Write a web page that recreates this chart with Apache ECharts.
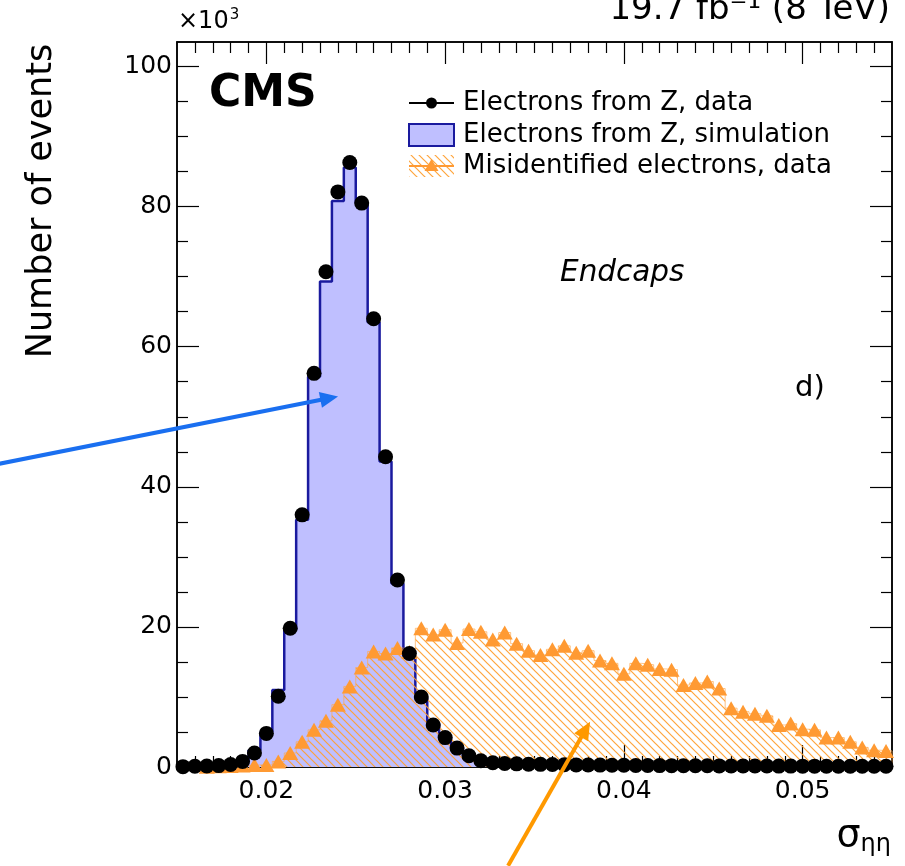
<!DOCTYPE html>
<html>
<head>
<meta charset="utf-8">
<script src="https://cdn.jsdelivr.net/npm/echarts@6/dist/echarts.min.js"></script>
<style>
  html, body { margin: 0; padding: 0; background: #ffffff; }
  #chart { width: 905px; height: 866px; }
</style>
</head>
<body>
<div id="chart"></div>
<script>
// Histogram binning of sigma_ieta_ieta (endcaps)
const binLow = 0.015;
const binHigh = 0.055;
const nBins = 60;

// Tick labels
const xTickLabels = [0.02, 0.03, 0.04, 0.05];
const yTickLabels = [0, 20, 40, 60, 80, 100];
const yMax = 103.5;

// Electrons from Z, data (x10^3 events per bin)
const zData = [
  0.05, 0.1, 0.15, 0.2, 0.35, 0.8, 2.0, 4.8, 10.1, 19.8,
  36.0, 56.2, 70.7, 82.1, 86.3, 80.5, 64.0, 44.3, 26.7, 16.2,
  10.0, 6.0, 4.2, 2.7, 1.6, 0.9, 0.6, 0.5, 0.45, 0.4,
  0.38, 0.35, 0.32, 0.3, 0.28, 0.27, 0.25, 0.24, 0.22, 0.21,
  0.2, 0.19, 0.18, 0.18, 0.17, 0.16, 0.15, 0.15, 0.14, 0.14,
  0.13, 0.13, 0.12, 0.12, 0.11, 0.11, 0.1, 0.1, 0.1, 0.1
];

// Electrons from Z, simulation
const zSim = [
  0.05, 0.1, 0.15, 0.2, 0.35, 0.8, 2.4, 5.0, 11.0, 19.6,
  35.3, 55.7, 69.3, 80.8, 85.6, 80.5, 63.5, 43.6, 26.2, 15.8,
  9.8, 6.2, 4.3, 2.8, 1.7, 1.0, 0.6, 0.5, 0.45, 0.4,
  0.38, 0.35, 0.32, 0.3, 0.28, 0.27, 0.25, 0.24, 0.22, 0.21,
  0.2, 0.19, 0.18, 0.18, 0.17, 0.16, 0.15, 0.15, 0.14, 0.14,
  0.13, 0.13, 0.12, 0.12, 0.11, 0.11, 0.1, 0.1, 0.1, 0.1
];

// Misidentified electrons, data
const fakeData = [
  0, 0, 0.05, 0.1, 0.15, 0.2, 0.3, 0.3, 0.8, 2.0,
  3.6, 5.3, 6.6, 8.9, 11.5, 14.2, 16.5, 16.2, 17.0, 16.4,
  19.8, 18.9, 19.6, 17.7, 19.7, 19.3, 18.2, 19.2, 17.6, 16.6,
  16.0, 16.8, 17.3, 16.3, 16.6, 15.2, 14.8, 13.3, 14.8, 14.6,
  14.0, 13.9, 11.7, 12.0, 12.2, 11.2, 8.4, 7.9, 7.6, 7.3,
  6.0, 6.2, 5.4, 5.3, 4.2, 4.2, 3.6, 2.8, 2.4, 2.3
];

// Annotation arrows, given in data coordinates [tail, tip]
const blueArrow = [[0.00507, 43.3], [0.02401, 52.9]];
const orangeArrow = [[0.03352, -14.1], [0.03811, 6.47]];

const binWidth = (binHigh - binLow) / nBins;
const centers = zData.map((_, i) => binLow + (i + 0.5) * binWidth);

// Outline of a histogram as points for a step:'end' line
function stepPoints(values) {
  const pts = [[binLow, 0]];
  values.forEach((v, i) => pts.push([binLow + i * binWidth, v]));
  pts.push([binHigh, values[values.length - 1]]);
  pts.push([binHigh, 0]);
  return pts;
}

function hatchCanvas(color, size, width) {
  const c = document.createElement('canvas');
  c.width = size; c.height = size;
  const g = c.getContext('2d');
  g.strokeStyle = color;
  g.lineWidth = width;
  g.beginPath();
  g.moveTo(0, 0); g.lineTo(size, size);
  g.moveTo(-2, size - 2); g.lineTo(2, size + 2);
  g.moveTo(size - 2, -2); g.lineTo(size + 2, 2);
  g.stroke();
  return c;
}
const hatch = hatchCanvas('rgba(255,160,50,0.95)', 8, 1.2);
const hatchFill = { image: hatch, repeat: 'repeat' };

const FONT = '"DejaVu Sans", Verdana, sans-serif';
const SIMFILL = '#bfbfff';
const SIMLINE = '#1a1a9e';
const ORANGE = '#ff9a33';

// Minor tick positions
const xMinor = [];
for (let k = 16; k <= 54; k++) if (k % 10 !== 0) xMinor.push(k / 1000);
const yMinor = [];
for (let k = 5; k < 103; k += 5) if (k % 20 !== 0) yMinor.push(k);

function xAxisDef(pos, major, labels) {
  return {
    type: 'value', position: pos, min: binLow, max: binHigh,
    axisLine: { show: major, onZero: false, lineStyle: { color: '#000', width: 1.5 } },
    axisTick: {
      show: true, inside: true, length: major ? 22 : 11,
      customValues: major ? xTickLabels : xMinor,
      lineStyle: { color: '#000', width: 1.2 }
    },
    axisLabel: labels ? {
      show: true, customValues: xTickLabels, margin: 12,
      fontFamily: FONT, fontSize: 25, color: '#000',
      formatter: v => v.toFixed(2)
    } : { show: false },
    splitLine: { show: false }
  };
}
function yAxisDef(pos, major, labels) {
  return {
    type: 'value', position: pos, min: 0, max: yMax,
    axisLine: { show: major, onZero: false, lineStyle: { color: '#000', width: 1.5 } },
    axisTick: {
      show: true, inside: true, length: major ? 22 : 11,
      customValues: major ? yTickLabels : yMinor,
      lineStyle: { color: '#000', width: 1.2 }
    },
    axisLabel: labels ? {
      show: true, customValues: yTickLabels, margin: 5,
      fontFamily: FONT, fontSize: 25, color: '#000'
    } : { show: false },
    splitLine: { show: false }
  };
}

const chart = echarts.init(document.getElementById('chart'), null, { renderer: 'canvas' });

const option = {
  animation: false,
  backgroundColor: '#ffffff',
  grid: {
    left: 177, right: 13, top: 42, bottom: 99,
    show: true, borderColor: '#000', borderWidth: 1.5, backgroundColor: 'transparent'
  },
  xAxis: [
    xAxisDef('bottom', true, true),
    xAxisDef('bottom', false, false),
    xAxisDef('top', true, false),
    xAxisDef('top', false, false)
  ],
  yAxis: [
    yAxisDef('left', true, true),
    yAxisDef('left', false, false),
    yAxisDef('right', true, false),
    yAxisDef('right', false, false)
  ],
  series: [
    {
      name: 'Electrons from Z, simulation', type: 'line', step: 'end',
      data: stepPoints(zSim), showSymbol: false, z: 2,
      lineStyle: { color: SIMLINE, width: 2.5 },
      areaStyle: { color: SIMFILL, opacity: 1 }
    },
    {
      name: 'Misidentified electrons, data (fill)', type: 'line', step: 'end',
      data: stepPoints(fakeData), showSymbol: false, z: 3,
      lineStyle: { color: 'rgba(255,170,80,0.7)', width: 1 },
      areaStyle: { color: hatchFill, opacity: 1 }
    },
    {
      name: 'Misidentified electrons, data', type: 'scatter',
      data: fakeData.map((v, i) => [centers[i], v]).filter(p => p[1] > 0),
      symbol: 'triangle', symbolSize: [16, 14], z: 4,
      itemStyle: { color: ORANGE, opacity: 1 }
    },
    {
      name: 'Electrons from Z, data', type: 'scatter',
      data: zData.map((v, i) => [centers[i], v]),
      symbol: 'circle', symbolSize: 15, z: 5,
      itemStyle: { color: '#000', opacity: 1 }
    }
  ]
};
chart.setOption(option);

// Legend, labels and annotations
function arrowGraphics(arrow, color, width, headLen, headHalf) {
  const a = chart.convertToPixel({ gridIndex: 0 }, arrow[0]);
  const b = chart.convertToPixel({ gridIndex: 0 }, arrow[1]);
  const dx = b[0] - a[0], dy = b[1] - a[1];
  const L = Math.hypot(dx, dy), ux = dx / L, uy = dy / L;
  const base = [b[0] - ux * headLen, b[1] - uy * headLen];
  return [
    { type: 'line', z: 100, shape: { x1: a[0], y1: a[1], x2: base[0] + ux * 2, y2: base[1] + uy * 2 },
      style: { stroke: color, lineWidth: width } },
    { type: 'polygon', z: 100, shape: { points: [
        b, [base[0] - uy * headHalf, base[1] + ux * headHalf], [base[0] + uy * headHalf, base[1] - ux * headHalf]
      ] }, style: { fill: color } }
  ];
}

const legendX = 409, legendTextX = 463, legendFont = 26;
const graphics = [
  { type: 'text', x: 178, y: 22, style: {
      text: '{a|×10}{b|3}', textVerticalAlign: 'middle',
      rich: { a: { fontFamily: FONT, fontSize: 24, color: '#000' },
              b: { fontFamily: FONT, fontSize: 15, color: '#000', padding: [0, 0, 14, 1] } } } },
  { type: 'text', x: 890, y: 27, style: { text: '19.7 fb⁻¹ (8 TeV)', font: '34px ' + FONT, fill: '#000', textAlign: 'right', textVerticalAlign: 'bottom' } },
  { type: 'text', x: 209, y: 95, style: { text: 'CMS', font: 'bold 44px ' + FONT, fill: '#000', textVerticalAlign: 'middle' } },
  { type: 'text', x: 560, y: 273, style: { text: 'Endcaps', font: 'italic 29.5px ' + FONT, fill: '#000', textVerticalAlign: 'middle' } },
  { type: 'text', x: 795, y: 388, style: { text: 'd)', font: '29px ' + FONT, fill: '#000', textVerticalAlign: 'middle' } },
  { type: 'text', x: 42, y: 201, rotation: Math.PI / 2,
    style: { text: 'Number of events', font: '35px ' + FONT, fill: '#000', textAlign: 'center', textVerticalAlign: 'middle' } },
  { type: 'text', x: 891, y: 836, style: {
      text: '{a|σ}{b|ηη}', textAlign: 'right', textVerticalAlign: 'middle',
      rich: { a: { fontFamily: FONT, fontSize: 38, color: '#000' },
              b: { fontFamily: FONT, fontSize: 24, color: '#000', padding: [18, 0, 0, 0] } } } },
  // legend row 1
  { type: 'line', shape: { x1: legendX, y1: 103, x2: legendX + 45, y2: 103 }, style: { stroke: '#000', lineWidth: 2 } },
  { type: 'circle', shape: { cx: legendX + 22.5, cy: 103, r: 5.5 }, style: { fill: '#000' } },
  { type: 'text', x: legendTextX, y: 103, style: { text: 'Electrons from Z, data', font: legendFont + 'px ' + FONT, fill: '#000', textVerticalAlign: 'middle' } },
  // legend row 2
  { type: 'rect', shape: { x: legendX, y: 124, width: 45, height: 22 }, style: { fill: SIMFILL, stroke: SIMLINE, lineWidth: 2 } },
  { type: 'text', x: legendTextX, y: 135, style: { text: 'Electrons from Z, simulation', font: legendFont + 'px ' + FONT, fill: '#000', textVerticalAlign: 'middle' } },
  // legend row 3
  { type: 'rect', shape: { x: legendX, y: 155, width: 45, height: 22 }, style: { fill: hatchFill } },
  { type: 'line', shape: { x1: legendX, y1: 166, x2: legendX + 45, y2: 166 }, style: { stroke: ORANGE, lineWidth: 2 } },
  { type: 'polygon', shape: { points: [[legendX + 22.5, 159], [legendX + 29.5, 171], [legendX + 15.5, 171]] }, style: { fill: ORANGE } },
  { type: 'text', x: legendTextX, y: 166, style: { text: 'Misidentified electrons, data', font: legendFont + 'px ' + FONT, fill: '#000', textVerticalAlign: 'middle' } }
];
arrowGraphics(blueArrow, '#1a6ff0', 4, 18, 8).forEach(g => graphics.push(g));
arrowGraphics(orangeArrow, '#ff9900', 4, 18, 8).forEach(g => graphics.push(g));

chart.setOption({ graphic: graphics });
</script>
</body>
</html>
